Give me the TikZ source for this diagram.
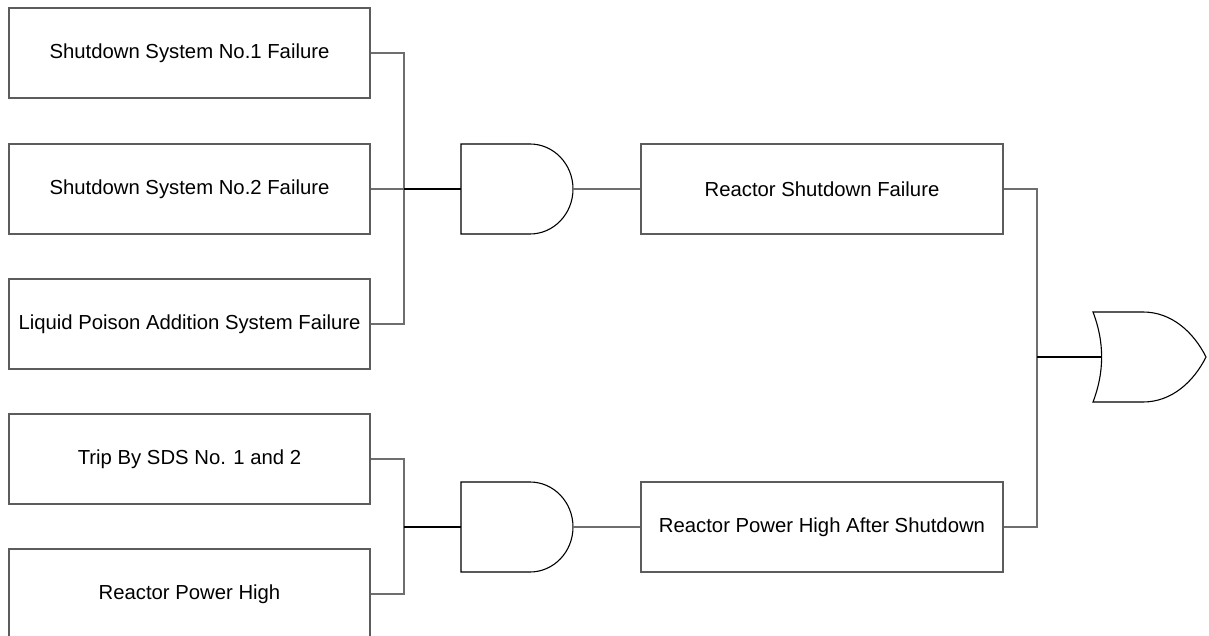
\documentclass[tikz,border=0pt]{standalone}
\usepackage{fontspec}
\setmainfont{Liberation Sans}
\usetikzlibrary{calc}
\definecolor{boxgray}{HTML}{5C5C5C}
\definecolor{wiregray}{HTML}{6E6E6E}
\begin{document}
\begin{tikzpicture}[x=1pt,y=-1pt,
  box/.style={draw=boxgray, line width=1.1pt, rectangle, minimum width=361pt, minimum height=90pt, inner sep=0pt, font=\fontsize{20.3}{24}\selectfont, text=black},
  gatebox/.style={rectangle, minimum width=112pt, minimum height=90pt, inner sep=0pt},
  wire/.style={draw=wiregray, line width=1.1pt},
  thickwire/.style={draw=black, line width=1.7pt},
  gateline/.style={draw=black, line width=1.1pt, fill=white}]
\useasboundingbox (0,0) rectangle (1209,636);
\clip (0,0) rectangle (1209,636);
% left column
\node[box] (b1) at (189.5,53) {Shutdown System No.1 Failure};
\node[box] (b2) at (189.5,189) {Shutdown System No.2 Failure};
\node[box] (b3) at (189.5,324) {Liquid Poison Addition System Failure};
\node[box] (b4) at (189.5,459) {Trip By SDS No. 1 and 2};
\node[box] (b5) at (189.5,594) {Reactor Power High};
% middle boxes
\node[box, minimum width=362pt] (r1) at (822,189) {Reactor Shutdown Failure};
\node[box, minimum width=362pt] (r2) at (822,527) {Reactor Power High After Shutdown};
% gates
\node[gatebox] (g1) at (517,189) {};
\node[gatebox] (g2) at (517,527) {};
\node[gatebox, minimum width=113pt] (og) at (1149.5,357) {};
\foreach \g in {g1,g2}{
  \begin{scope}[shift={(\g.center)}]
    \draw[gateline] (-56,-45) -- (13,-45) .. controls (36.7,-45) and (56,-24.9) .. (56,0)
      .. controls (56,24.9) and (36.7,45) .. (13,45) -- (-56,45) -- cycle;
  \end{scope}
}
\begin{scope}[shift={(og.center)}]
  \draw[gateline] (-56.5,-45) -- (-6.5,-45) .. controls (22,-45) and (44,-25) .. (56.5,0)
    .. controls (44,25) and (22,45) .. (-6.5,45) -- (-56.5,45)
    .. controls (-45,15) and (-45,-15) .. (-56.5,-45) -- cycle;
  \coordinate (orin) at (-47.5,0);
\end{scope}
% junctions
\coordinate (j1) at (404,189);
\coordinate (j2) at (404,527);
\coordinate (j3) at (1037,357);
% connectors
\draw[wire] (b1.east) -| (j1) |- (b3.east);
\draw[wire] (b2.east) -- (j1);
\draw[thickwire] (j1) -- (g1.west);
\draw[wire] (g1.east) -- (r1.west);
\draw[wire] (b4.east) -| (j2) |- (b5.east);
\draw[thickwire] (j2) -- (g2.west);
\draw[wire] (g2.east) -- (r2.west);
\draw[wire] (r1.east) -| (j3) |- (r2.east);
\draw[draw=black, line width=1.1pt] (j3) -- (orin);
\end{tikzpicture}
\end{document}
